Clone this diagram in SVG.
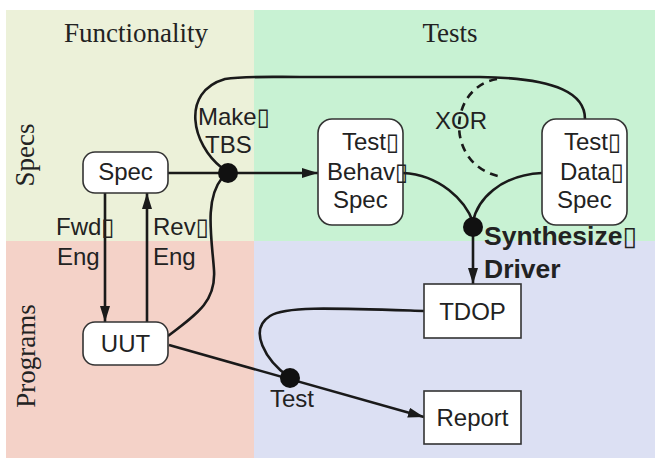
<svg xmlns="http://www.w3.org/2000/svg" width="655" height="458" viewBox="0 0 655 458">
<style>
.hdr{font-family:"Liberation Serif","Times New Roman",serif;font-size:27px;fill:#222}
.lbl{font-family:"Liberation Sans",Arial,"DejaVu Sans",sans-serif;font-size:24px;fill:#222}
.bold{font-family:"Liberation Sans",Arial,"DejaVu Sans",sans-serif;font-size:26.5px;font-weight:bold;fill:#222}
.box{fill:#fff;stroke:#333;stroke-width:1.6}
.wire{fill:none;stroke:#1a1a1a;stroke-width:2.6}
.dash{fill:none;stroke:#1a1a1a;stroke-width:2.6;stroke-dasharray:8 6}
.dot{fill:#111}
</style>
<defs>
<marker id="ah" viewBox="0 0 16 10" refX="16" refY="5" markerWidth="16" markerHeight="10" markerUnits="userSpaceOnUse" orient="auto">
<path d="M0,0 L16,5 L0,10 Z" fill="#1a1a1a"/>
</marker>
</defs>
<g id="background">
<rect x="6" y="10" width="248" height="231" fill="#ecf1d9"/>
<rect x="254" y="10" width="401" height="231" fill="#c8f2d3"/>
<rect x="6" y="241" width="248" height="217" fill="#f4d2c8"/>
<rect x="254" y="241" width="401" height="217" fill="#dce0f3"/>
<text class="hdr" x="136" y="42" text-anchor="middle">Functionality</text>
<text class="hdr" x="450" y="42" text-anchor="middle">Tests</text>
<text class="hdr" transform="translate(34,155) rotate(-90)" text-anchor="middle">Specs</text>
<text class="hdr" transform="translate(35,356) rotate(-90)" text-anchor="middle">Programs</text>
</g>
<g id="connectors">
<path class="wire" d="M168,173 L318,173" marker-end="url(#ah)"/>
<path class="wire" d="M222,168 C192,145 180,92 225,79 C245,76 270,77 300,77 L480,77 C560,78 585,95 585,119"/>
<path class="dash" d="M497,79 C446,88 445,168 503,177"/>
<path class="wire" d="M403,173 C440,175 465,200 473,222"/>
<path class="wire" d="M542,173 C500,175 477,200 473,222"/>
<path class="wire" d="M473,227 L473,284" marker-end="url(#ah)"/>
<path class="wire" d="M105,193 L105,322" marker-end="url(#ah)"/>
<path class="wire" d="M147,322 L147,193" marker-end="url(#ah)"/>
<path class="wire" d="M168,336 C200,312 216,300 214,270 C212,240 204,200 222,178"/>
<path class="wire" d="M169,345 L424,417" marker-end="url(#ah)"/>
<path class="wire" d="M290,378 C265,360 248,330 270,316 C285,306 330,308 424,311"/>
<circle class="dot" cx="228" cy="173" r="10"/>
<circle class="dot" cx="473" cy="227" r="10"/>
<circle class="dot" cx="290" cy="378" r="10"/>
<text class="lbl" x="198" y="125">Make▯</text>
<text class="lbl" x="205" y="153">TBS</text>
<text class="lbl" x="435" y="129">XOR</text>
<text class="lbl" x="56" y="235">Fwd▯</text>
<text class="lbl" x="57" y="265">Eng</text>
<text class="lbl" x="153" y="235">Rev▯</text>
<text class="lbl" x="153" y="265">Eng</text>
<text class="bold" x="484" y="245">Synthesize▯</text>
<text class="bold" x="484" y="278">Driver</text>
<text class="lbl" x="270" y="407">Test</text>
</g>
<g id="spec">
<rect class="box" x="83" y="152" width="85" height="41" rx="12"/>
<text class="lbl" x="125.5" y="180" text-anchor="middle">Spec</text>
</g>
<g id="uut">
<rect class="box" x="83" y="322" width="85" height="43" rx="12"/>
<text class="lbl" x="125.5" y="352" text-anchor="middle">UUT</text>
</g>
<g id="test-behav-spec">
<rect class="box" x="318" y="119" width="85" height="106" rx="14"/>
<text class="lbl" x="342" y="150">Test▯</text>
<text class="lbl" x="327" y="180">Behav▯</text>
<text class="lbl" x="333" y="208">Spec</text>
</g>
<g id="test-data-spec">
<rect class="box" x="542" y="119" width="85" height="106" rx="14"/>
<text class="lbl" x="564" y="150">Test▯</text>
<text class="lbl" x="560" y="180">Data▯</text>
<text class="lbl" x="557" y="208">Spec</text>
</g>
<g id="tdop">
<rect class="box" x="424" y="284" width="97" height="54"/>
<text class="lbl" x="472.5" y="320" text-anchor="middle">TDOP</text>
</g>
<g id="report">
<rect class="box" x="424" y="391" width="97" height="53"/>
<text class="lbl" x="472.5" y="426" text-anchor="middle">Report</text>
</g>
</svg>
